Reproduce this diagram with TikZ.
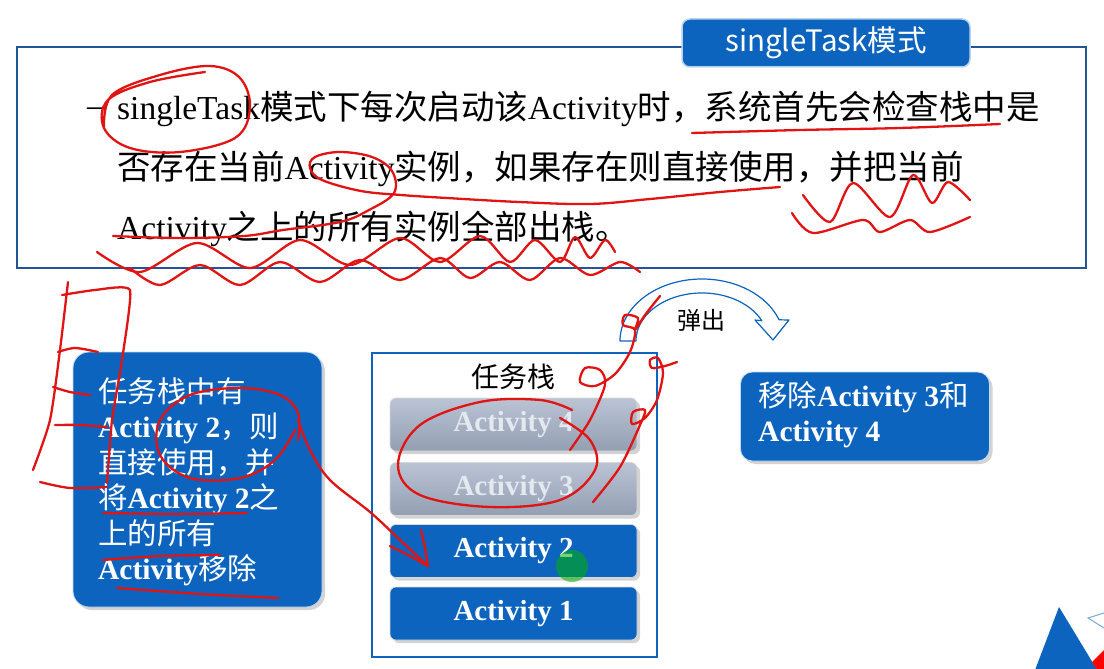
\documentclass[tikz,border=0pt]{standalone}
\usepackage{fontspec}
\setmainfont{Liberation Serif}
\newfontfamily\cjk{Noto Sans CJK SC}
\newcommand{\zhs}[1]{{\cjk #1}}
\usetikzlibrary{shadows}
\definecolor{slideblue}{RGB}{12,100,190}
\definecolor{frameblue}{RGB}{35,85,150}
\definecolor{stackgray}{RGB}{163,176,198}
\definecolor{graytext}{RGB}{228,233,240}
\definecolor{chevron}{RGB}{120,170,210}
\definecolor{penred}{RGB}{225,20,20}
\begin{document}
\begin{tikzpicture}[x=1pt,y=-1pt,
  bigfont/.style={font=\fontsize{33.5}{40}\selectfont},
  boxfont/.style={font=\fontsize{29.5}{35.5}\selectfont},
  bluebox/.style={draw=white!75!slideblue,line width=0.8pt,fill=slideblue,rounded corners=16pt,
    drop shadow={opacity=0.35,shadow xshift=3pt,shadow yshift=-3pt}},
  bar/.style={draw=white!70!gray,line width=0.6pt,rounded corners=6pt,minimum width=247pt,minimum height=53pt,
    inner sep=0pt,font=\fontsize{29}{34}\selectfont\bfseries,
    drop shadow={opacity=0.35,shadow xshift=3pt,shadow yshift=-3pt}},
  graybar/.style={bar,top color=stackgray!75!white,bottom color=stackgray!90!black,text=graytext},
  bluebar/.style={bar,fill=slideblue,text=white},
  pen/.style={draw=penred,line width=2.3pt,line cap=round,line join=round}]
\useasboundingbox (0,0) rectangle (1104,669);
% rahmen oben
\node[draw=frameblue,line width=2pt,minimum width=1069pt,minimum height=220pt,inner sep=0pt] (frame) at (551.5,157.5) {};
\node[draw=white!70!slideblue,line width=1.5pt,fill=slideblue,rounded corners=8pt,minimum width=288pt,minimum height=48pt,
  text=white,font=\cjk\fontsize{29.5}{34}\selectfont] (title) at (826,43) {singleTask模式};
% text
\node[bigfont,anchor=base east,inner sep=0pt] (dash) at (104,117) {--};
\node[bigfont,anchor=base west,inner sep=0pt] (line1) at (117,119) {singleTask\zhs{模式下每次启动该}Activity\zhs{时，系统首先会检查栈中是}};
\node[bigfont,anchor=base west,inner sep=0pt] (line2) at (117,179) {\zhs{否存在当前}Activity\zhs{实例，如果存在则直接使用，并把当前}};
\node[bigfont,anchor=base west,inner sep=0pt] (line3) at (117,239) {Activity\zhs{之上的所有实例全部出栈。}};
% linke box
\node[bluebox,minimum width=249pt,minimum height=255pt] (leftbox) at (197.5,479.5) {};
\node[boxfont,anchor=north west,inner sep=0pt,align=left,text=white] (lefttext) at (98,377) {%
  \zhs{任务栈中有}\\
  \textbf{Activity 2}\zhs{，则}\\
  \zhs{直接使用，并}\\
  \zhs{将}\textbf{Activity 2}\zhs{之}\\
  \zhs{上的所有}\\
  \textbf{Activity}\zhs{移除}};
% task stack
\node[draw=slideblue,line width=1.2pt,minimum width=285pt,minimum height=304pt,inner sep=0pt] (stack) at (514.5,505) {};
\node[font=\cjk\fontsize{28}{32}\selectfont,inner sep=0pt] (stacktitle) at (513,377) {任务栈};
\node[graybar] (act4) at (513.5,424.5) {Activity 4};
\node[graybar] (act3) at (513.5,489) {Activity 3};
\node[bluebar] (act2) at (513.5,551) {Activity 2};
\node[bluebar] (act1) at (513.5,613.5) {Activity 1};
\fill[green!70!black,opacity=0.55] (572,566) circle[radius=16];
% pfeil oben
\draw[slideblue,line width=1.2pt,fill=white,line join=round]
  (620,341) arc[start angle=180,end angle=340,x radius=82,y radius=62]
  -- (789,320) -- (773,340) -- (755,320)
  -- (761.8,320.7) arc[start angle=335,end angle=180,x radius=66,y radius=48] -- cycle;
\node[font=\cjk\fontsize{24}{28}\selectfont,inner sep=0pt] (pop) at (701,320) {弹出};
% rechte box
\node[bluebox,rounded corners=12pt,minimum width=249pt,minimum height=89pt] (rightbox) at (865,416.5) {};
\node[boxfont,anchor=north west,inner sep=0pt,align=left,text=white] (righttext) at (758,381) {%
  \zhs{移除}\textbf{Activity 3}\zhs{和}\\
  \textbf{Activity 4}};
% ecke unten rechts
\fill[slideblue] (1059,607) -- (1035.4,669) -- (1096.6,669) -- cycle;
\fill[red] (1092,662) -- (1104,650) -- (1104,669) -- (1096.6,669) -- cycle;
\draw[chevron,line width=1pt] (1104,613) -- (1088,618) -- (1104,628);
% rote notizen
\draw[pen] plot[smooth,tension=0.6] coordinates {(104,128) (112,95) (160,75) (210,66) (240,78) (250,108) (235,138)
  (180,152) (130,148) (104,128) (108,100) (150,82) (205,72)};
\draw[pen] plot[smooth,tension=0.6] coordinates {(692,133) (800,130) (900,128) (1000,124)};
\draw[pen] plot[smooth,tension=0.6] coordinates {(113,236) (180,238) (244,236) (283,230) (340,222) (369,210)
  (394,193) (392,171) (372,157) (340,152) (315,157) (310,168) (322,180) (361,191) (401,195) (447,198)
  (519,202) (590,204) (650,199) (720,192) (780,187)};
\draw[pen] plot[smooth,tension=0.5] coordinates {(97,252) (140,272) (197,243) (250,268) (300,240) (350,265)
  (400,238) (440,262) (480,236) (510,262) (535,240) (560,262) (575,237) (590,258) (605,240) (615,252)};
\draw[pen] plot[smooth,tension=0.5] coordinates {(130,268) (160,285) (200,265) (240,285) (280,262) (320,282)
  (360,260) (400,280) (440,258) (470,278) (500,262) (530,280) (560,258) (590,275) (620,262) (640,272)};
\draw[pen] plot[smooth,tension=0.5] coordinates {(803,195) (830,222) (853,183) (890,217) (913,175) (932,203)
  (948,182) (970,200)};
\draw[pen] plot[smooth,tension=0.5] coordinates {(792,213) (813,233) (863,220) (880,232) (910,220) (930,232) (970,217)};
\draw[pen] plot[smooth,tension=0.4] coordinates {(68,282) (60,350) (50,420) (33,470)};
\draw[pen] plot[smooth,tension=0.3] coordinates {(62,295) (95,290) (130,290) (122,360) (112,420) (107,483)};
\draw[pen] plot[smooth,tension=0.5] coordinates {(107,487) (70,488) (40,482)};
\draw[pen] plot[smooth,tension=0.5] coordinates {(58,352) (75,348) (98,352)};
\draw[pen] plot[smooth,tension=0.5] coordinates {(53,387) (70,392) (90,395)};
\draw[pen] plot[smooth,tension=0.5] coordinates {(55,425) (80,425) (107,427)};
\draw[pen] plot[smooth,tension=0.6] coordinates {(298,440) (298,413) (280,395) (240,388) (190,395) (160,420)
  (160,455) (190,478) (240,478) (275,460) (295,430)};
\draw[pen] plot[smooth,tension=0.6] coordinates {(298,420) (310,450) (330,480) (370,512) (400,540) (428,566)};
\draw[pen] plot[smooth,tension=0.5] coordinates {(390,546) (410,556) (428,566)};
\draw[pen] plot[smooth,tension=0.5] coordinates {(421,530) (425,548) (428,566)};
\draw[pen] plot[smooth,tension=0.5] coordinates {(103,513) (180,514) (247,513)};
\draw[pen] plot[smooth,tension=0.5] coordinates {(103,560) (160,556) (220,555)};
\draw[pen] plot[smooth,tension=0.5] coordinates {(117,588) (200,594) (278,598)};
\draw[pen] plot[smooth,tension=0.6] coordinates {(572,410) (540,400) (480,402) (420,425) (398,465) (420,495)
  (490,507) (560,500) (595,470) (590,440) (560,418)};
\draw[pen] plot[smooth,tension=0.5] coordinates {(570,450) (590,420) (605,385) (600,370) (585,368) (580,382)
  (595,386) (615,374) (630,352) (635,330) (623,325) (625,315) (638,318) (635,330) (645,315) (660,296)};
\draw[pen] plot[smooth,tension=0.5] coordinates {(593,502) (620,467) (640,425) (645,410) (633,412) (632,424)
  (645,418) (657,400) (663,373) (658,358) (650,360) (652,368) (665,366) (677,362)};
\end{tikzpicture}
\end{document}
